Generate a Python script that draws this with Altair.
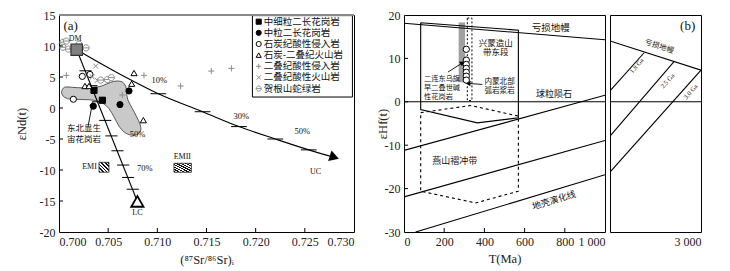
import altair as alt
import pandas as pd

CJK = "Noto Sans CJK SC"
SERIF = "Liberation Serif"
W_A, W_BL, W_BR, H = 295, 201, 91, 217

# ---------------- Panel (a) data ----------------
types = ["中细粒二长花岗岩", "中粒二长花岗岩", "石炭纪酸性侵入岩", "石炭-二叠纪火山岩",
         "二叠纪酸性侵入岩", "二叠纪酸性火山岩", "贺根山蛇绿岩"]

sq_x = [0.70356, 0.70441]
sq_y = [2.85, 1.25]
fc_x = [0.70349, 0.70620, 0.70712]
fc_y = [0.29, 0.55, 2.75]
oc_x = [0.70146, 0.70237, 0.70315]
oc_y = [1.41, 5.10, 5.42]
tr_x = [0.70763, 0.70739, 0.70264, 0.70305, 0.70858]
tr_y = [5.64, 3.92, 3.55, 3.55, -1.96]
pl_x = [0.70075, 0.70864, 0.71237, 0.71549, 0.71753, 0.70644]
pl_y = [5.26, 5.26, 3.55, 5.96, 6.39, 2.10]
xc_x = [0.70373, 0.70339, 0.70390, 0.70458]
xc_y = [6.76, 5.00, 4.46, 4.46]
th_x = [0.70041, 0.70075, 0.70041, 0.70096, 0.70140, 0.70203, 0.70275, 0.70424, 0.70492, 0.70532]
th_y = [10.6, 10.8, 9.8, 9.5, 9.6, 10.3, 9.7, 4.5, 4.6, 4.9]

dm_x, dm_y = [0.7018], [9.4]
lc_x, lc_y = [0.70797], [-15.07]

# grey field: 东北显生宙花岗岩
reg_x = [0.70034, 0.70068, 0.70186, 0.70339, 0.70441, 0.70525, 0.70586, 0.70644, 0.70678, 0.70688,
         0.70702, 0.70746, 0.70790, 0.70824, 0.70831, 0.70797, 0.70736, 0.70668, 0.70610, 0.70559,
         0.70508, 0.70441, 0.70356, 0.70254, 0.70153, 0.70085, 0.70044, 0.70027]
reg_y = [2.96, 3.39, 3.28, 3.28, 3.60, 4.14, 4.35, 4.19, 3.50, 2.32,
         1.25, -0.09, -1.43, -2.60, -3.57, -4.26, -4.37, -3.94, -2.92, -1.43,
         -0.09, 0.82, 1.25, 1.36, 1.41, 1.52, 1.89, 2.43]

# mixing curves
uc_x = [0.7018, 0.7065, 0.7101, 0.7146, 0.7183, 0.7220, 0.7254, 0.7280]
uc_y = [9.4, 5.2, 2.3, -0.6, -3.0, -5.0, -6.75, -7.95]
uc_tick_x = [0.7101, 0.7146, 0.7183, 0.7220, 0.7254]
uc_tick_y = [2.3, -0.6, -3.0, -5.0, -6.75]
lcl_x = [0.7018, 0.70797]
lcl_y = [9.4, -15.07]
lc_tick_x = [0.70266, 0.70326, 0.70392, 0.70467, 0.70530, 0.70591, 0.70649, 0.70699, 0.70747]
lc_tick_y = [6.0, 3.6, 1.0, -2.0, -4.5, -6.9, -9.2, -11.2, -13.1]

emi_box = [0.70407, 0.70508, -8.76, -10.36]
emii_box = [0.71169, 0.71346, -8.92, -10.36]

xa_ticks = [0.700, 0.705, 0.710, 0.715, 0.720, 0.725, 0.730]
ya_ticks = [-20, -15, -10, -5, 0, 5, 10, 15]

# legend placement (panel a data units)
leg_box = [0.71967, 0.72984, 1.77, 14.9]
leg_sym_x, leg_txt_x = 0.72031, 0.72082
leg_top_y, leg_step = 13.92, 1.798

# ---------------- Panel (b) data ----------------
dm_l_t, dm_l_e = [0, 1000], [18.1, 14.3]
dm_r_t, dm_r_e = [1000, 3000], [14.0, 7.3]
chon_l_t, chon_l_e = [0, 1000], [0, 0]
chon_r_t, chon_r_e = [1000, 3000], [0, 0]
c1_t, c1_e = [0, 1000], [-11.2, 1.5]
c2_t, c2_e = [0, 1000], [-21.9, -8.9]
c3_t, c3_e = [58, 1000], [-30, -16.8]
g18_t, g18_e = [1000, 1750], [2.5, 11.3]
g25_t, g25_e = [1000, 2411], [-7.9, 9.3]
g30_t, g30_e = [1000, 3000], [-16.2, 7.3]
xm_t = [83, 569, 569, 365, 83, 83]
xm_e = [18.2, 16.5, -3.7, -4.85, -1.8, 18.2]
ys_t = [83, 332, 569, 569, 357, 83, 83]
ys_e = [-2.5, -0.85, -3.3, -20.6, -23.3, -20.6, -2.5]
bar_t, bar_e = [272, 304], [4.5, 18.3]
arc_t, arc_e = [315, 338], [0.3, 19.3]
hf_t = [310, 310, 310, 310, 310, 310, 310]
hf_e = [12.1, 9.6, 8.6, 7.7, 6.8, 5.9, 5.0]
xb_ticks = [0, 200, 400, 600, 800, 1000]
yb_ticks = [-30, -20, -10, 0, 10, 20]

# ---------------- helpers ----------------
PLUS = "M-1,0L1,0M0,-1L0,1"
CROSS = "M-0.8,-0.8L0.8,0.8M-0.8,0.8L0.8,-0.8"
THETA = "M-1,0A1,1,0,1,0,1,0A1,1,0,1,0,-1,0ZM-1,0L1,0"
SHAPES = ["square", "circle", "circle", "triangle-up", PLUS, CROSS, THETA]
FILLS = ["black", "black", "white", "white", "transparent", "transparent", "white"]
STROKES = ["black", "black", "black", "black", "#8c8c8c", "#8c8c8c", "#8c8c8c"]


def seg_df(segs):
    rows = []
    for g, (xs, ys) in segs.items():
        for i, (a, b) in enumerate(zip(xs, ys)):
            rows.append({"g": g, "i": i, "x": a, "y": b})
    return pd.DataFrame(rows)


def stripes(n):
    stops = []
    for i in range(n):
        c = "#111111" if i % 2 == 0 else "white"
        stops.append(alt.GradientStop(color=c, offset=i / n))
        stops.append(alt.GradientStop(color=c, offset=(i + 1) / n))
    return alt.LinearGradient(gradient="linear", stops=stops, x1=0, y1=1, x2=1, y2=0)


def text_layer(items, XE, YE, font, size, align="center", angle=0, baseline="middle"):
    df = pd.DataFrame([{"x": a, "y": b, "t": t} for t, a, b in items])
    kw = dict(font=font, fontSize=size, align=align, baseline=baseline, color="#111111")
    if angle:
        kw["angle"] = angle
    return alt.Chart(df).mark_text(**kw).encode(x=XE, y=YE, text="t:N")


# ---------------- Panel (a) ----------------
sxA = alt.Scale(domain=[0.700, 0.730], nice=False, zero=False)
syA = alt.Scale(domain=[-20, 15], nice=False, zero=False)
axA_x = alt.Axis(values=xa_ticks, format=".3f", title="(⁸⁷Sr/⁸⁶Sr)ᵢ", titleY=27, titleBaseline="middle")
axA_y = alt.Axis(values=ya_ticks, labelExpr="datum.value + ''", title="εNd(t)",
                 titleX=-38, titleY=H / 2, titleBaseline="middle")
XA = alt.X("x:Q", scale=sxA, axis=axA_x)
YA = alt.Y("y:Q", scale=syA, axis=axA_y)

rows = []
for t, xs, ys in zip(types, [sq_x, fc_x, oc_x, tr_x, pl_x, xc_x, th_x],
                     [sq_y, fc_y, oc_y, tr_y, pl_y, xc_y, th_y]):
    for a, b in zip(xs, ys):
        rows.append({"x": a, "y": b, "t": t})
samples = pd.DataFrame(rows)

SH = alt.Shape("t:N", scale=alt.Scale(domain=types, range=SHAPES), legend=None)
FI = alt.Fill("t:N", scale=alt.Scale(domain=types, range=FILLS), legend=None)
ST = alt.Stroke("t:N", scale=alt.Scale(domain=types, range=STROKES), legend=None)

a_xticks = alt.Chart(pd.DataFrame({"x": xa_ticks[1:-1]})).mark_rule(color="black").encode(
    x=XA, y=alt.value(H), y2=alt.value(H - 4))
a_yticks = alt.Chart(pd.DataFrame({"y": ya_ticks[1:-1]})).mark_rule(color="black").encode(
    y=YA, x=alt.value(0), x2=alt.value(4))
a_topline = alt.Chart(pd.DataFrame({"x": [xa_ticks[0]], "x2": [xa_ticks[-1]]})).mark_rule(
    color="#8a8a8a", strokeWidth=2).encode(x=XA, x2="x2:Q", y=alt.value(0))

region = alt.Chart(pd.DataFrame({"x": reg_x, "y": reg_y, "i": list(range(len(reg_x)))})).mark_line(
    fill="#c9c9c9", stroke="#333333", strokeWidth=0.8, interpolate="cardinal-closed").encode(
    x=XA, y=YA, order="i:Q")

lines_a = alt.Chart(seg_df({"uc": (uc_x, uc_y), "lc": (lcl_x, lcl_y)})).mark_line(
    color="black", strokeWidth=1.1, interpolate="monotone").encode(x=XA, y=YA, detail="g:N", order="i:Q")

ticks_a = pd.DataFrame(
    [{"x": a - 0.0008, "x2": a + 0.0008, "y": b} for a, b in zip(uc_tick_x, uc_tick_y)] +
    [{"x": a - 0.00058, "x2": a + 0.00065, "y": b} for a, b in zip(lc_tick_x, lc_tick_y)])
mix_ticks = alt.Chart(ticks_a).mark_rule(color="black", strokeWidth=1).encode(
    x=XA, x2="x2:Q", y=YA)

uc_head = alt.Chart(pd.DataFrame({"x": [uc_x[-1]], "y": [uc_y[-1]]})).mark_point(
    shape="triangle-right", filled=True, color="black", size=120, angle=18, opacity=1).encode(x=XA, y=YA)

emi = alt.Chart(pd.DataFrame({"x": [emi_box[0]], "x2": [emi_box[1]], "y": [emi_box[2]], "y2": [emi_box[3]]})).mark_rect(
    fill=stripes(11), stroke="#222222", strokeWidth=0.8).encode(x=XA, x2="x2:Q", y=YA, y2="y2:Q")
emii = alt.Chart(pd.DataFrame({"x": [emii_box[0]], "x2": [emii_box[1]], "y": [emii_box[2]], "y2": [emii_box[3]]})).mark_rect(
    fill=stripes(15), stroke="#222222", strokeWidth=0.8).encode(x=XA, x2="x2:Q", y=YA, y2="y2:Q")

pts = alt.Chart(samples).mark_point(size=38, strokeWidth=1, opacity=1).encode(
    x=XA, y=YA, shape=SH, fill=FI, stroke=ST)

dm_pt = alt.Chart(pd.DataFrame({"x": dm_x, "y": dm_y})).mark_point(
    shape="square", fill="#808080", stroke="#333333", strokeWidth=1.2, size=130, opacity=1).encode(x=XA, y=YA)
lc_pt = alt.Chart(pd.DataFrame({"x": lc_x, "y": lc_y})).mark_point(
    shape="triangle-up", fill="white", stroke="black", strokeWidth=1.8, size=150, opacity=1).encode(x=XA, y=YA)

arrow_a = alt.Chart(pd.DataFrame({"x": [0.70295, 0.70336], "y": [-3.04, 0.45], "i": [0, 1]})).mark_line(
    color="black", strokeWidth=0.9).encode(x=XA, y=YA, order="i:Q")
arrow_a_head = alt.Chart(pd.DataFrame({"x": [0.70339], "y": [0.61]})).mark_point(
    shape="triangle-right", filled=True, color="black", size=30, angle=281, opacity=1).encode(x=XA, y=YA)

# legend (drawn inside panel a)
leg_rows = pd.DataFrame({"t": types,
                         "y": [leg_top_y - leg_step * i for i in range(len(types))]})
leg_rows["x"] = leg_sym_x
leg_rows["xt"] = leg_txt_x
legend_box = alt.Chart(pd.DataFrame({"x": [leg_box[0]], "x2": [leg_box[1]], "y": [leg_box[2]], "y2": [leg_box[3]]})).mark_rect(
    fill="white", stroke="black", strokeWidth=1).encode(x=XA, x2="x2:Q", y=YA, y2="y2:Q")
legend_sym = alt.Chart(leg_rows).mark_point(size=26, strokeWidth=1, opacity=1).encode(
    x=XA, y=YA, shape=SH, fill=FI, stroke=ST)
legend_txt = alt.Chart(leg_rows).mark_text(font=CJK, fontSize=9.5, align="left", baseline="middle",
                                           color="#111111").encode(
    x=alt.X("xt:Q", scale=sxA, axis=axA_x), y=YA, text="t:N")

a_texts = [
    text_layer([("(a)", 0.70119, 13.2)], XA, YA, SERIF, 13),
    text_layer([("DM", 0.70165, 11.1)], XA, YA, SERIF, 8),
    text_layer([("10%", 0.71020, 4.45), ("30%", 0.71855, -1.33), ("50%", 0.72475, -3.68),
                ("50%", 0.70800, -4.21), ("70%", 0.70872, -9.62)], XA, YA, SERIF, 8.5),
    text_layer([("UC", 0.72610, -10.36), ("LC", 0.70797, -16.94), ("EMII", 0.71254, -7.9)], XA, YA, SERIF, 8),
    text_layer([("EMI", 0.70385, -9.55)], XA, YA, SERIF, 8, align="right"),
    text_layer([("东北显生", 0.70254, -3.25), ("宙花岗岩", 0.70254, -4.95)], XA, YA, CJK, 8.5),
]

chart_a = alt.layer(
    region, emi, emii, lines_a, mix_ticks, uc_head, arrow_a, arrow_a_head,
    pts, dm_pt, lc_pt, *a_texts, legend_box, legend_sym, legend_txt, a_xticks, a_yticks, a_topline
).properties(width=W_A, height=H)

# ---------------- Panel (b) left ----------------
sxB = alt.Scale(domain=[0, 1000], nice=False, zero=False)
syB = alt.Scale(domain=[-30, 20], nice=False, zero=False)
axB_x = alt.Axis(values=xb_ticks, labelExpr="datum.value == 1000 ? '1 000' : datum.value + ''",
                 title="T(Ma)", titleY=26, titleBaseline="middle")
axB_y = alt.Axis(values=yb_ticks, labelExpr="datum.value + ''", title="εHf(t)",
                 titleX=-22, titleY=H / 2, titleBaseline="middle")
XB = alt.X("x:Q", scale=sxB, axis=axB_x)
YB = alt.Y("y:Q", scale=syB, axis=axB_y)

lines_bl = alt.Chart(seg_df({"dm": (dm_l_t, dm_l_e), "ch": (chon_l_t, chon_l_e), "c1": (c1_t, c1_e),
                             "c2": (c2_t, c2_e), "c3": (c3_t, c3_e), "xm": (xm_t, xm_e)})).mark_line(
    color="black", strokeWidth=1.1, clip=True).encode(x=XB, y=YB, detail="g:N", order="i:Q")
dash_bl = alt.Chart(seg_df({"ys": (ys_t, ys_e)})).mark_line(
    color="black", strokeWidth=1.1, strokeDash=[3, 3], clip=True).encode(x=XB, y=YB, detail="g:N", order="i:Q")
bar = alt.Chart(pd.DataFrame({"x": [bar_t[0]], "x2": [bar_t[1]], "y": [bar_e[0]], "y2": [bar_e[1]]})).mark_rect(
    color="#a0a0a0").encode(x=XB, x2="x2:Q", y=YB, y2="y2:Q")
arc = alt.Chart(pd.DataFrame({"x": [arc_t[0]], "x2": [arc_t[1]], "y": [arc_e[0]], "y2": [arc_e[1]]})).mark_rect(
    fill="transparent", stroke="black", strokeWidth=1, strokeDash=[2, 2]).encode(x=XB, x2="x2:Q", y=YB, y2="y2:Q")
hf_pts = alt.Chart(pd.DataFrame({"x": hf_t, "y": hf_e})).mark_point(
    shape="circle", fill="white", stroke="black", strokeWidth=1, size=40, opacity=1).encode(x=XB, y=YB)
arrows_b = alt.Chart(seg_df({"a1": ([219, 286], [6.85, 8.85]), "a2": ([390, 324], [4.0, 4.22])})).mark_line(
    color="black", strokeWidth=0.9).encode(x=XB, y=YB, detail="g:N", order="i:Q")
heads_b = alt.Chart(pd.DataFrame({"x": [291, 319], "y": [9.0, 4.24], "a": [327, 184]})).mark_point(
    shape="triangle-right", filled=True, color="black", size=30, opacity=1).encode(
    x=XB, y=YB, angle=alt.Angle("a:Q", scale=None))
b_xticks = alt.Chart(pd.DataFrame({"x": xb_ticks[1:-1]})).mark_rule(color="black").encode(
    x=XB, y=alt.value(H), y2=alt.value(H - 4))
b_yticks = alt.Chart(pd.DataFrame({"y": yb_ticks[1:-1]})).mark_rule(color="black").encode(
    y=YB, x=alt.value(0), x2=alt.value(4))

b_texts = [
    text_layer([("亏损地幔", 730, 17.1)], XB, YB, CJK, 9.5),
    text_layer([("兴蒙造山", 456, 13.6), ("带东段", 456, 11.4)], XB, YB, CJK, 8.5),
    text_layer([("球粒陨石", 746, 1.9), ("燕山褶冲带", 252, -13.7)], XB, YB, CJK, 9),
    text_layer([("二连东乌旗", 100, 5.2), ("早二叠世碱", 100, 3.2), ("性花岗岩", 100, 1.2)], XB, YB, CJK, 7.2, align="left"),
    text_layer([("内蒙北部", 400, 4.45), ("弧岩浆岩", 400, 2.45)], XB, YB, CJK, 7.6, align="left"),
    text_layer([("地壳演化线", 746, -22.7)], XB, YB, CJK, 9, angle=343),
]

chart_bl = alt.layer(
    bar, arc, lines_bl, dash_bl, *b_texts, arrows_b, heads_b, hf_pts, b_xticks, b_yticks
).properties(width=W_BL, height=H)

# ---------------- Panel (b) right ----------------
sxR = alt.Scale(domain=[1000, 3000], nice=False, zero=False)
axR_x = alt.Axis(values=[3000], labelExpr="'3 000'", labelAlign="right", title=None)
XR = alt.X("x:Q", scale=sxR, axis=axR_x)
YR = alt.Y("y:Q", scale=syB, axis=None)

lines_br = alt.Chart(seg_df({"dm": (dm_r_t, dm_r_e), "ch": (chon_r_t, chon_r_e), "g18": (g18_t, g18_e),
                             "g25": (g25_t, g25_e), "g30": (g30_t, g30_e)})).mark_line(
    color="black", strokeWidth=1.1, clip=True).encode(x=XR, y=YR, detail="g:N", order="i:Q")
r_texts = [
    text_layer([("(b)", 2707, 17.5)], XR, YR, SERIF, 13),
    text_layer([("亏损地幔", 2081, 12.7)], XR, YR, CJK, 7.5, angle=18),
    text_layer([("1.8 Ga", 1588, 8.3), ("2.5 Ga", 2266, 4.8), ("3.0 Ga", 2775, 2.3)], XR, YR, SERIF, 6.5, angle=311),
]
chart_br = alt.layer(lines_br, *r_texts).properties(width=W_BR, height=H)

inner = alt.hconcat(chart_bl, chart_br, spacing=5, bounds="flush")
chart = alt.hconcat(chart_a, inner, spacing=50, bounds="flush").properties(
    padding={"left": 6, "top": 0, "right": 4, "bottom": 2}
).configure_view(stroke="black", strokeWidth=1).configure_axis(
    labelFont=SERIF, labelFontSize=12, labelColor="#222222", titleFont=SERIF, titleFontSize=12.5,
    titleFontWeight="normal", titleColor="#222222", domain=False, ticks=False, grid=False, labelPadding=4
)

chart.save("out.html", embed_options={"renderer": "svg", "actions": False})
